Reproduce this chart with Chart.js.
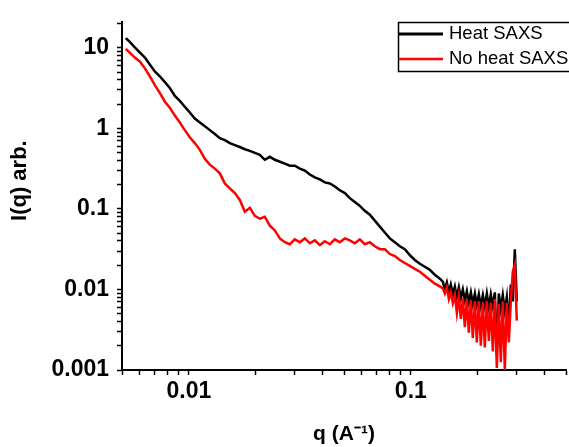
<!DOCTYPE html>
<html>
<head>
<meta charset="utf-8">
<script src="https://cdn.jsdelivr.net/npm/chart.js"></script>
<style>
  html, body { margin: 0; padding: 0; background: #fff; }
</style>
</head>
<body>
<canvas id="myChart" width="569" height="447"></canvas>
<script>
// q values (A^-1), shared by both curves
var q = [
  0.00520, 0.00542, 0.00571, 0.00602, 0.00634, 0.00667, 0.00703, 0.00740, 0.00780, 0.00821,
  0.00865, 0.00911, 0.00959, 0.0101, 0.01064, 0.01121, 0.01181, 0.01243, 0.01310, 0.01379,
  0.01453, 0.01530, 0.01612, 0.01697, 0.01788, 0.01883, 0.01983, 0.02088, 0.02199, 0.02317,
  0.02440, 0.02570, 0.02706, 0.02851, 0.03002, 0.03162, 0.03331, 0.03508, 0.03695, 0.03892,
  0.04099, 0.04317, 0.04547, 0.04788, 0.05043, 0.05311, 0.05594, 0.05892, 0.06205, 0.06536,
  0.06883, 0.07251, 0.07636, 0.08043, 0.08471, 0.08923, 0.09397, 0.09897, 0.1042, 0.1098,
  0.1156, 0.1218, 0.1283, 0.1351,
  0.1394, 0.1423, 0.1453, 0.1484, 0.1514, 0.1546, 0.1579, 0.1612, 0.1646, 0.1680,
  0.1715, 0.1751, 0.1788, 0.1825, 0.1864, 0.1902, 0.1943, 0.1983, 0.2025, 0.2067,
  0.2111, 0.2154, 0.2200, 0.2246, 0.2293, 0.2341, 0.2390, 0.2440, 0.2491, 0.2543,
  0.2596, 0.2651, 0.2706, 0.2763, 0.2821, 0.2880, 0.2940, 0.3002
];
var heatI = [
  13.2, 11.8, 10.1, 8.69, 7.55, 6.21, 5.09, 4.43, 3.74, 3.16,
  2.52, 2.19, 1.85, 1.57, 1.32, 1.18, 1.06, 0.95, 0.85, 0.755,
  0.714, 0.656, 0.62, 0.586, 0.55, 0.525, 0.496, 0.469, 0.407, 0.443,
  0.407, 0.385, 0.364, 0.344, 0.344, 0.316, 0.299, 0.267, 0.246, 0.232,
  0.213, 0.207, 0.19, 0.17, 0.157, 0.136, 0.122, 0.109, 0.0946, 0.0845,
  0.0714, 0.0603, 0.0509, 0.043, 0.0385, 0.0344, 0.0316, 0.0267, 0.0232, 0.0208,
  0.0191, 0.0175, 0.0152, 0.0136,
  0.0125, 0.0100, 0.0122, 0.0092, 0.0115, 0.0087, 0.0109, 0.0080, 0.0106, 0.0078,
  0.0100, 0.0073, 0.0095, 0.0069, 0.0092, 0.0066, 0.0089, 0.0064, 0.0087, 0.0062,
  0.0085, 0.0062, 0.0089, 0.0060, 0.0087, 0.0062, 0.0092, 0.0015, 0.0089, 0.0057,
  0.0085, 0.0054, 0.0080, 0.0035, 0.0115, 0.0071, 0.0316, 0.0071
];
var noHeatI = [
  9.7, 8.69, 7.55, 6.75, 5.55, 4.43, 3.44, 2.75, 2.14, 1.80,
  1.44, 1.18, 0.95, 0.776, 0.656, 0.54, 0.419, 0.354, 0.316, 0.276,
  0.207, 0.18, 0.157, 0.129, 0.0919, 0.103, 0.082, 0.0755, 0.0799, 0.062,
  0.054, 0.043, 0.0385, 0.0364, 0.0419, 0.0385, 0.043, 0.0374, 0.0407, 0.0354,
  0.0396, 0.0364, 0.0419, 0.0385, 0.043, 0.0407, 0.0374, 0.0419, 0.0364, 0.0385,
  0.0344, 0.0316, 0.0316, 0.0275, 0.026, 0.0232, 0.0213, 0.0196, 0.018, 0.0166,
  0.0148, 0.0132, 0.0118, 0.0109,
  0.0103, 0.0089, 0.0106, 0.0076, 0.0092, 0.0068, 0.0085, 0.0051, 0.0080, 0.0043,
  0.0078, 0.0034, 0.0076, 0.0029, 0.0073, 0.0025, 0.0071, 0.0022, 0.0071, 0.0020,
  0.0069, 0.0019, 0.0071, 0.0023, 0.0068, 0.0017, 0.0076, 0.00106, 0.0066, 0.00125,
  0.0071, 0.0010, 0.0068, 0.0022, 0.0071, 0.0166, 0.0202, 0.0041
];
var seriesNames = ['Heat SAXS', 'No heat SAXS'];
var seriesColors = ['#000000', '#ff0000'];
var xTickLabels = ['0.01', '0.1'];
var yTickLabels = ['0.001', '0.01', '0.1', '1', '10'];
var xRange = [0.005, 0.5];
var yRange = [0.001, 21];
var xTitle = 'q (A\u207B\u00B9)';
var yTitle = '     I(q) arb.';

var fontFam = 'Arial, "Liberation Sans", sans-serif';

// ticks at 1..9 x 10^n inside the range
function logTicks(min, max) {
  var out = [];
  for (var e = Math.floor(Math.log10(min)); e <= Math.ceil(Math.log10(max)); e++) {
    for (var m = 1; m <= 9; m++) {
      var v = parseFloat((m * Math.pow(10, e)).toPrecision(3));
      if (v >= min * 0.999 && v <= max * 1.001) out.push({ value: v });
    }
  }
  return out;
}

var boxLegend = {
  id: 'boxLegend',
  afterDraw: function(chart) {
    var ctx = chart.ctx;
    ctx.save();
    ctx.strokeStyle = '#000';
    ctx.lineWidth = 1.5;
    ctx.strokeRect(398.5, 22.5, 190, 49);
    chart.data.datasets.forEach(function(ds, i) {
      var y = 34 + i * 25;
      ctx.strokeStyle = ds.borderColor;
      ctx.lineWidth = i == 0 ? 3 : 2.5;
      ctx.beginPath();
      ctx.moveTo(399, y);
      ctx.lineTo(443, y);
      ctx.stroke();
      ctx.fillStyle = '#000';
      ctx.font = '18.5px ' + fontFam;
      ctx.textBaseline = 'middle';
      ctx.fillText(ds.label, 449, y);
    });
    ctx.restore();
  }
};

var dataObj = {
  type: 'line',
  data: {
    datasets: [
      {
        label: seriesNames[0],
        data: q.map(function(x, i) { return { x: x, y: heatI[i] }; }),
        borderColor: seriesColors[0],
        borderWidth: 2.5,
        pointRadius: 0,
        tension: 0,
        order: 1
      },
      {
        label: seriesNames[1],
        data: q.map(function(x, i) { return { x: x, y: noHeatI[i] }; }),
        borderColor: seriesColors[1],
        borderWidth: 2.5,
        pointRadius: 0,
        tension: 0,
        order: 0
      }
    ]
  },
  options: {
    responsive: false,
    animation: false,
    devicePixelRatio: 1,
    layout: { padding: { top: 15, right: 2, left: 0, bottom: 0 } },
    plugins: { legend: { display: false }, tooltip: { enabled: false } },
    scales: {
      x: {
        type: 'logarithmic',
        min: xRange[0],
        max: xRange[1],
        afterBuildTicks: function(scale) { scale.ticks = logTicks(xRange[0], xRange[1]); },
        afterFit: function(scale) { scale.height = 77; },
        border: { display: true, color: '#000', width: 2 },
        grid: { drawOnChartArea: false, drawTicks: true, tickLength: 5, tickColor: '#000', tickWidth: 1.5 },
        ticks: {
          autoSkip: false, maxRotation: 0, padding: 3, color: '#000',
          font: { family: fontFam, size: 23, weight: 'bold' },
          callback: function(v) {
            var s = String(parseFloat(Number(v).toPrecision(3)));
            return xTickLabels.indexOf(s) >= 0 ? s : '';
          }
        },
        title: {
          display: true, text: xTitle, color: '#000',
          font: { family: fontFam, size: 21, weight: 'bold' },
          padding: { top: 0, bottom: 0 }
        }
      },
      y: {
        type: 'logarithmic',
        min: yRange[0],
        max: yRange[1],
        afterBuildTicks: function(scale) { scale.ticks = logTicks(yRange[0], yRange[1]); },
        afterFit: function(scale) { scale.width = 122; },
        border: { display: true, color: '#000', width: 2 },
        grid: { drawOnChartArea: false, drawTicks: true, tickLength: 5, tickColor: '#000', tickWidth: 1.5 },
        ticks: {
          autoSkip: false, padding: 8, color: '#000',
          font: { family: fontFam, size: 23, weight: 'bold' },
          callback: function(v) {
            var s = String(parseFloat(Number(v).toPrecision(3)));
            return yTickLabels.indexOf(s) >= 0 ? s : '';
          }
        },
        title: {
          display: true, text: yTitle, color: '#000',
          font: { family: fontFam, size: 22, weight: 'bold' },
          padding: { top: 7, bottom: 0 }
        }
      }
    }
  },
  plugins: [boxLegend]
};

var ctx = document.getElementById('myChart').getContext('2d');
window.myLine = new Chart(ctx, dataObj);
</script>
</body>
</html>
